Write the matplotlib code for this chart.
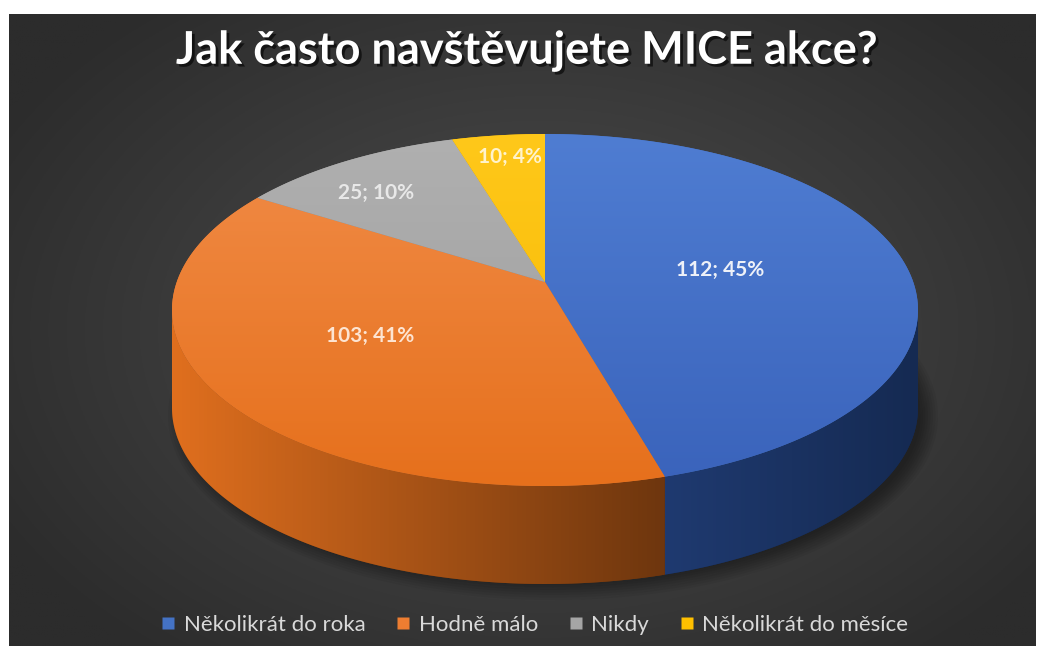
import numpy as np
import matplotlib.pyplot as plt
from matplotlib.patches import Polygon, Ellipse
from matplotlib.lines import Line2D
from matplotlib import patheffects

# data
labels = ['Několikrát do roka', 'Hodně málo', 'Nikdy', 'Několikrát do měsíce']
counts = [112, 103, 25, 10]
colors = ['#4472C4', '#ED7D31', '#A5A5A5', '#FFC000']
top_light = ['#4f7dd2', '#f18c48', '#b0b0b0', '#ffc81a']
top_dark = ['#3a63bb', '#e6701c', '#9c9c9c', '#f5b800']
side_light = ['#1f3a70', '#e06f1e', '#7d7d7d', '#c09000']
side_dark = ['#152a52', '#6e360e', '#555555', '#8a6800']
label_colors = ['#eef1f8', '#fde4d2', '#e8e8e8', '#fff3cc']
title = 'Jak často navštěvujete MICE akce?'

W, H = 1043, 646
FONT = ['Lato', 'DejaVu Sans']

fig = plt.figure(figsize=(W / 100, H / 100), dpi=100)
fig.patch.set_facecolor('white')
ax = fig.add_axes([0, 0, 1, 1])
ax.set_xlim(0, W)
ax.set_ylim(H, 0)
ax.axis('off')


def grad_img(c1, c2, direction, n=200):
    c1 = np.array(plt.matplotlib.colors.to_rgb(c1))
    c2 = np.array(plt.matplotlib.colors.to_rgb(c2))
    yy, xx = np.mgrid[0:1:n * 1j, 0:1:n * 1j]
    t = xx if direction == 'h' else yy
    return c1[None, None, :] * (1 - t[..., None]) + c2[None, None, :] * t[..., None]


# dark background with radial gradient
bx0, by0, bx1, by1 = 9, 14, 1036, 646
yy, xx = np.mgrid[by0:by1:300j, bx0:bx1:500j]
r = np.sqrt(((xx - 540) / 620) ** 2 + ((yy - 330) / 420) ** 2)
r = np.clip(r, 0, 1)
inner = np.array([0x4e, 0x4e, 0x4e]) / 255
outer = np.array([0x2c, 0x2c, 0x2c]) / 255
bg = inner[None, None, :] * (1 - r[..., None]) + outer[None, None, :] * r[..., None]
ax.imshow(bg, extent=[bx0, bx1, by1, by0], aspect='auto', zorder=0)

# pie geometry (pixel units)
cx, cy = 545, 310
a, b = 373, 176
depth = 98
hub = (cx, cy - 28)

# soft shadow under the pie
for k in range(8):
    ax.add_patch(Ellipse((cx + 8, cy + depth + 8), 2 * a + 24 - 5 * k, 2 * b + 16 - 5 * k,
                         facecolor='black', alpha=0.05, edgecolor='none', zorder=1))

total = sum(counts)
bounds = np.concatenate([[0], np.cumsum(counts)]) / total * 360.0


def arc(t1, t2, n=120):
    t = np.radians(np.linspace(t1, t2, n))
    return np.column_stack([cx + a * np.sin(t), cy - b * np.cos(t)])


# side walls (front half only: 90..270 deg)
for i in range(len(counts)):
    t1, t2 = max(bounds[i], 90), min(bounds[i + 1], 270)
    if t2 <= t1:
        continue
    top = arc(t1, t2)
    bot = top[::-1] + [0, depth]
    pts = np.vstack([top, bot])
    poly = Polygon(pts, closed=True, facecolor=side_dark[i], edgecolor='none', zorder=2)
    ax.add_patch(poly)
    g = grad_img(side_light[i], side_dark[i], 'h')
    x0, x1 = pts[:, 0].min(), pts[:, 0].max()
    y0, y1 = pts[:, 1].min(), pts[:, 1].max()
    im = ax.imshow(g, extent=[x0, x1, y1, y0], aspect='auto', zorder=2)
    im.set_clip_path(poly)

# top faces
for i in range(len(counts)):
    pts = np.vstack([[hub], arc(bounds[i], bounds[i + 1])])
    poly = Polygon(pts, closed=True, facecolor=colors[i], edgecolor='none', zorder=3)
    ax.add_patch(poly)
    g = grad_img(top_light[i], top_dark[i], 'v')
    im = ax.imshow(g, extent=[cx - a, cx + a, cy + b, cy - b], aspect='auto', zorder=3)
    im.set_clip_path(poly)

# data labels
label_pos = [(720, 270), (370, 336), (376, 193), (510, 157)]
for i in range(len(counts)):
    pct = round(counts[i] / total * 100)
    ax.text(label_pos[i][0], label_pos[i][1], f'{counts[i]}; {pct}%', color=label_colors[i],
            fontsize=15, fontweight='bold', family=FONT, ha='center', va='center', zorder=5)

# title
ax.text(527, 51, title, color='white', fontsize=32.5, fontweight='bold', family=FONT,
        ha='center', va='center', zorder=5,
        path_effects=[patheffects.withSimplePatchShadow(offset=(2, -2), shadow_rgbFace='black', alpha=0.6)])

# legend
handles = [Line2D([], [], marker='s', linestyle='none', markersize=8,
                  markerfacecolor=c, markeredgecolor='none') for c in colors]
leg = fig.legend(handles, labels, loc='center', bbox_to_anchor=(535 / W, 1 - 625 / H), ncol=4,
                 frameon=False, handlelength=0.6, handletextpad=0.4, columnspacing=1.4,
                 prop={'family': FONT, 'size': 16})
for t in leg.get_texts():
    t.set_color('#d9d9d9')

fig.savefig('out.png', dpi=100, facecolor='white')
